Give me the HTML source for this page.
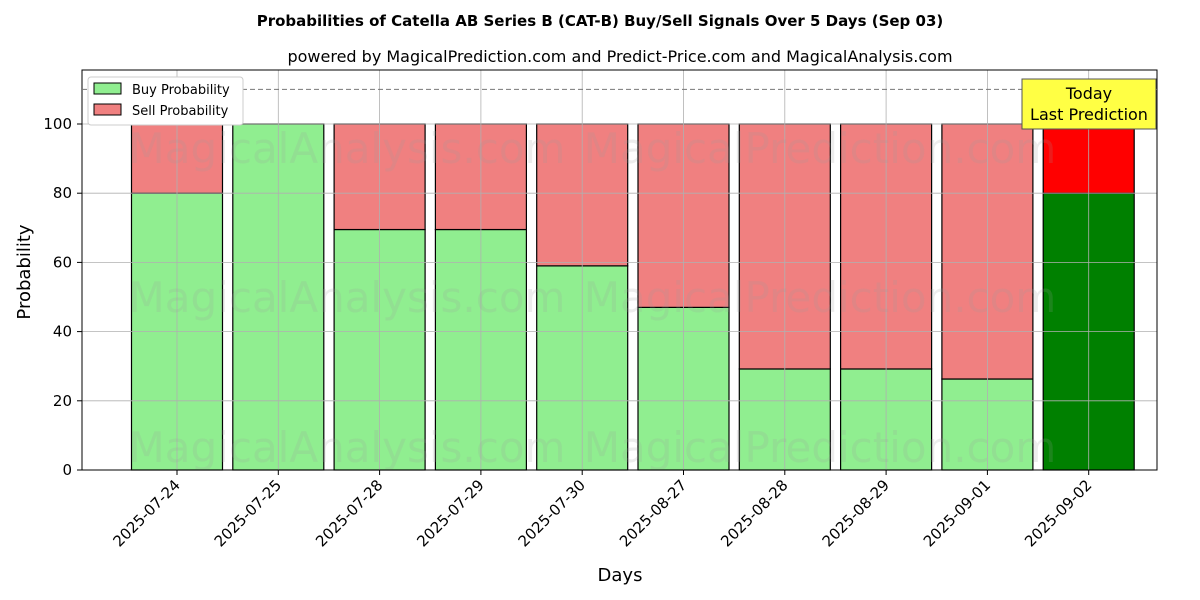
<!DOCTYPE html>
<html><head><meta charset="utf-8"><style>body{margin:0;background:#fff}svg{display:block;font-family:"DejaVu Sans","Liberation Sans",sans-serif}</style></head>
<body>
<svg id="chart" width="1200" height="600" xmlns="http://www.w3.org/2000/svg">
<text x="600" y="26" text-anchor="middle" font-size="15" font-weight="bold">Probabilities of Catella AB Series B (CAT-B) Buy/Sell Signals Over 5 Days (Sep 03)</text>
<text x="620" y="62" text-anchor="middle" font-size="16">powered by MagicalPrediction.com and Predict-Price.com and MagicalAnalysis.com</text>
<text x="30" y="272" text-anchor="middle" font-size="18" transform="rotate(-90 30 272)">Probability</text>
<text x="620" y="581" text-anchor="middle" font-size="18">Days</text>
<g id="bars"></g><g id="grid"></g><g id="wm"></g><g id="ticks"></g>
<rect x="82" y="70" width="1075" height="400" fill="none" stroke="#000" stroke-width="1"/>
<line x1="82" x2="1157" y1="89.4" y2="89.4" stroke="#777" stroke-dasharray="5,3"/>
<g>
<rect x="88" y="77" width="155" height="48" fill="#fff" stroke="#ccc" rx="3"/>
<rect x="94" y="83" width="27" height="11" fill="#90ee90" stroke="#000"/>
<text x="132" y="94" font-size="13">Buy Probability</text>
<rect x="94" y="104" width="27" height="11" fill="#f08080" stroke="#000"/>
<text x="132" y="115" font-size="13">Sell Probability</text>
</g>
<g>
<rect x="1022" y="79" width="134" height="50" fill="#ffff44" stroke="#555"/>
<text x="1089" y="99" text-anchor="middle" font-size="16">Today</text>
<text x="1089" y="120" text-anchor="middle" font-size="16">Last Prediction</text>
</g>
</svg>
<script>
const categories=["2025-07-24","2025-07-25","2025-07-28","2025-07-29","2025-07-30","2025-08-27","2025-08-28","2025-08-29","2025-09-01","2025-09-02"];
const buyValues=[80,100,69.5,69.5,59,47,29.2,29.2,26.3,80];
const sellValues=[20,0,30.5,30.5,41,53,70.8,70.8,73.7,20];
const yTicks=[0,20,40,60,80,100];
const NS="http://www.w3.org/2000/svg";
const xS=i=>177+i*101.3, yS=v=>470-v*3.46, BW=91;
function mk(tag,attrs,parent){const e=document.createElementNS(NS,tag);for(const k in attrs)e.setAttribute(k,attrs[k]);parent.appendChild(e);return e;}
const bars=document.getElementById('bars'),grid=document.getElementById('grid'),ticks=document.getElementById('ticks'),wm=document.getElementById('wm');
categories.forEach((c,i)=>{
  const last=i===categories.length-1;
  const b=mk('rect',{x:xS(i)-BW/2,y:yS(buyValues[i]),width:BW,height:yS(0)-yS(buyValues[i]),fill:last?'#008000':'#90ee90',stroke:'#000','stroke-width':1.2},bars);
  
  
  const s=mk('rect',{x:xS(i)-BW/2,y:yS(buyValues[i]+sellValues[i]),width:BW,height:yS(buyValues[i])-yS(buyValues[i]+sellValues[i]),fill:last?'#ff0000':'#f08080',stroke:'#000','stroke-width':1.2},bars);
  
  
  const g=mk('line',{x1:xS(i),x2:xS(i),y1:70,y2:470,stroke:'#b0b0b0','stroke-width':0.8},grid);
  
  
  mk('line',{x1:xS(i),x2:xS(i),y1:470,y2:475,stroke:'#000'},ticks);
  const t=mk('text',{x:xS(i)+4,y:486,'text-anchor':'end','font-size':15,transform:`rotate(-45 ${xS(i)+4} 486)`},ticks);
  t.textContent=c;
  
  
});
yTicks.forEach(v=>{
  const g=mk('line',{x1:82,x2:1157,y1:yS(v),y2:yS(v),stroke:'#b0b0b0','stroke-width':0.8},grid);
  
  
  mk('line',{x1:77,x2:82,y1:yS(v),y2:yS(v),stroke:'#000'},ticks);
  const t=mk('text',{x:72,y:yS(v)+5,'text-anchor':'end','font-size':15},ticks);
  t.textContent=v;
  
  
});
[[347,163,'MagicalAnalysis.com'],[820,163,'MagicalPrediction.com'],[347,312,'MagicalAnalysis.com'],[820,312,'MagicalPrediction.com'],[347,462,'MagicalAnalysis.com'],[820,462,'MagicalPrediction.com']].forEach(w=>{
  const t=mk('text',{x:w[0],y:w[1],'text-anchor':'middle','font-size':42,fill:'#999','fill-opacity':0.18},wm);
  t.textContent=w[2];
  
  
});
</script>
</body></html>
